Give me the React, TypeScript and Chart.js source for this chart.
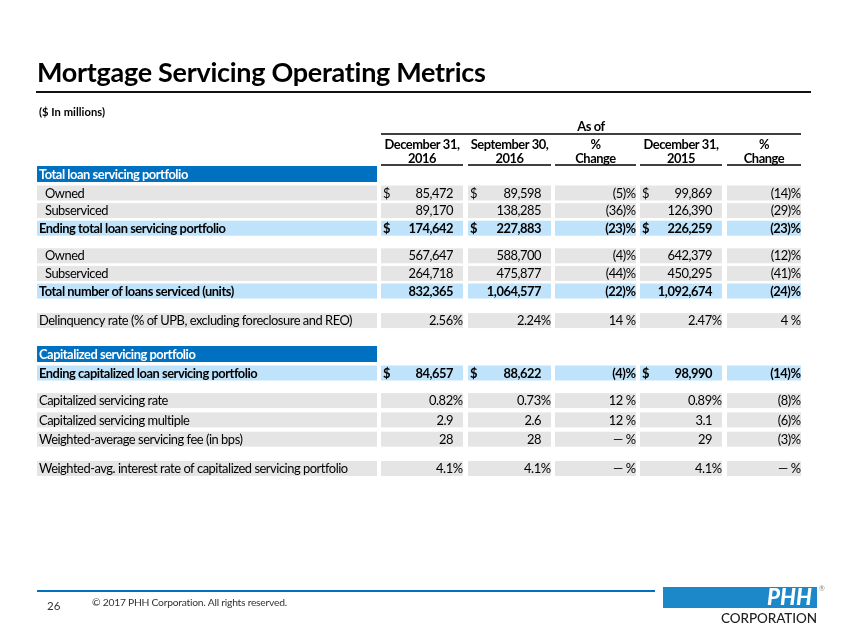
import React, { useEffect, useRef } from "react";
import { Chart, registerables } from "chart.js";

Chart.register(...registerables);

// ---------- data ----------
const title = "Mortgage Servicing Operating Metrics";
const unitNote = "($ In millions)";
const groupHeader = "As of";
const colHeads1 = ["December 31,", "September 30,", "%", "December 31,", "%"];
const colHeads2 = ["2016", "2016", "Change", "2015", "Change"];

// row kinds: section (blue heading), indent, plain, total (bold light-blue), gap / gapM / gap2 (spacers)
const rowLabels = [
  "Total loan servicing portfolio",
  "Owned",
  "Subserviced",
  "Ending total loan servicing portfolio",
  "",
  "Owned",
  "Subserviced",
  "Total number of loans serviced (units)",
  "",
  "Delinquency rate (% of UPB, excluding foreclosure and REO)",
  "",
  "Capitalized servicing portfolio",
  "Ending capitalized loan servicing portfolio",
  "",
  "Capitalized servicing rate",
  "Capitalized servicing multiple",
  "Weighted-average servicing fee (in bps)",
  "",
  "Weighted-avg. interest rate of capitalized servicing portfolio",
];
const rowKinds = [
  "section", "indent", "indent", "total", "gap",
  "indent", "indent", "total", "gapM",
  "plain", "gap2",
  "section", "total", "gap",
  "plain", "plain", "plain", "gap",
  "plain",
];
// value formats: int / pct2 / mult / bps / pct1
const rowFormats = [
  "", "int", "int", "int", "",
  "int", "int", "int", "",
  "pct2", "",
  "", "int", "",
  "pct2", "mult", "bps", "",
  "pct1",
];
const dollarRows = [1, 3, 12];

const dec2016 = [null, 85472, 89170, 174642, null, 567647, 264718, 832365, null, 2.56, null, null, 84657, null, 0.82, 2.9, 28, null, 4.1];
const sep2016 = [null, 89598, 138285, 227883, null, 588700, 475877, 1064577, null, 2.24, null, null, 88622, null, 0.73, 2.6, 28, null, 4.1];
const changeQ = [null, -5, -36, -23, null, -4, -44, -22, null, 14, null, null, -4, null, 12, 12, 0, null, 0];
const dec2015 = [null, 99869, 126390, 226259, null, 642379, 450295, 1092674, null, 2.47, null, null, 98990, null, 0.89, 3.1, 29, null, 4.1];
const changeY = [null, -14, -29, -23, null, -12, -41, -24, null, 4, null, null, -14, null, -8, -6, -3, null, 0];

const footerPage = "26";
const footerCopy = "\u00A9 2017 PHH Corporation. All rights reserved.";
const logoTop = "PHH";
const logoBottom = "CORPORATION";

// ---------- formatting ----------
function fmtValue(v: number | null, f: string): string {
  if (v === null || v === undefined) return "";
  if (f === "int") return v.toLocaleString("en-US");
  if (f === "pct2") return v.toFixed(2) + "%";
  if (f === "pct1") return v.toFixed(1) + "%";
  if (f === "mult") return v.toFixed(1);
  return String(v);
}
function fmtChange(v: number | null): string {
  if (v === null || v === undefined) return "";
  if (v === 0) return "\u2014 %";
  if (v < 0) return "(" + Math.abs(v) + ")%";
  return v + " %";
}

const FONT = "Lato, 'Open Sans', sans-serif";

// letter spacing (px) so that text at given font spans width
function fitSpacing(ctx: CanvasRenderingContext2D, text: string, font: string, width: number) {
  (ctx as any).letterSpacing = "0px";
  ctx.font = font;
  const w = ctx.measureText(text).width;
  return (width - w) / text.length;
}
function setFont(ctx: CanvasRenderingContext2D, font: string, ls: number) {
  ctx.font = font;
  (ctx as any).letterSpacing = `${ls.toFixed(3)}px`;
}

const tablePlugin = {
  id: "tablePlugin",
  afterDraw(chart: any) {
    const ctx: CanvasRenderingContext2D = chart.ctx;
    const xs = chart.scales.x;
    const ys = chart.scales.y;
    const X = (v: number) => xs.getPixelForValue(v);
    const Y = (v: number) => ys.getPixelForValue(v);

    ctx.save();
    ctx.fillStyle = "#ffffff";
    ctx.fillRect(X(0), Y(0), X(847) - X(0), Y(635) - Y(0));

    // Title
    const tFont = `bold 27px ${FONT}`;
    setFont(ctx, tFont, fitSpacing(ctx, title, tFont, 449));
    ctx.fillStyle = "#000";
    ctx.textBaseline = "alphabetic";
    ctx.textAlign = "left";
    ctx.fillText(title, X(37), Y(82));
    ctx.strokeStyle = "#111";
    ctx.lineWidth = 2;
    ctx.beginPath();
    ctx.moveTo(X(36), Y(92));
    ctx.lineTo(X(811), Y(92));
    ctx.stroke();

    // unit note
    const nFont = `bold 11.2px ${FONT}`;
    setFont(ctx, nFont, fitSpacing(ctx, unitNote, nFont, 66));
    ctx.textBaseline = "middle";
    ctx.fillText(unitNote, X(39), Y(112));

    const BODY = 12.9;
    const bodyLs = fitSpacing(ctx, rowLabels[9], `normal ${BODY}px ${FONT}`, 313);
    const cols = [[381, 463], [468, 551], [555, 636], [640, 722], [727, 801]];

    // Column group header
    setFont(ctx, `bold ${BODY}px ${FONT}`, bodyLs);
    ctx.textAlign = "center";
    ctx.fillText(groupHeader, X(591), Y(127));
    ctx.lineWidth = 1.6;
    ctx.strokeStyle = "#000";
    ctx.beginPath();
    ctx.moveTo(X(381), Y(134));
    ctx.lineTo(X(801), Y(134));
    ctx.stroke();

    cols.forEach((c, i) => {
      const cx = (c[0] + c[1]) / 2;
      ctx.fillText(colHeads1[i], X(cx), Y(145));
      ctx.fillText(colHeads2[i], X(cx), Y(158.5));
      ctx.beginPath();
      ctx.moveTo(X(c[0]), Y(165));
      ctx.lineTo(X(c[1]), Y(165));
      ctx.stroke();
    });

    // Rows
    const heights: Record<string, number> = {
      section: 19.5, indent: 17.6, total: 17.6, plain: 19.3, gap: 10, gapM: 12, gap2: 13.6,
    };
    let top = 166;
    const colVals = [dec2016, sep2016, changeQ, dec2015, changeY];
    rowKinds.forEach((kind, i) => {
      if (kind.startsWith("gap")) {
        top += heights[kind];
        return;
      }
      const bandH = kind === "section" ? 16 : 15;
      const mid = top + bandH / 2 + 0.5;
      const bold = kind === "total" || kind === "section";
      const weight = bold ? "bold" : "normal";
      ctx.fillStyle = kind === "section" ? "#0070C0" : kind === "total" ? "#BFE3FA" : "#E5E5E5";
      ctx.fillRect(X(37), Y(top), X(377) - X(37), Y(top + bandH) - Y(top));
      if (kind !== "section") {
        cols.forEach((c) => {
          ctx.fillRect(X(c[0]), Y(top), X(c[1]) - X(c[0]), Y(top + bandH) - Y(top));
        });
      }
      setFont(ctx, `${weight} ${BODY}px ${FONT}`, bodyLs);
      ctx.textBaseline = "middle";
      ctx.textAlign = "left";
      ctx.fillStyle = kind === "section" ? "#ffffff" : "#000000";
      ctx.fillText(rowLabels[i], X(kind === "indent" ? 45 : 39), Y(mid));
      if (kind !== "section") {
        ctx.fillStyle = "#000";
        colVals.forEach((arr, ci) => {
          const c = cols[ci];
          const isChange = ci === 2 || ci === 4;
          const txt = isChange ? fmtChange(arr[i] as any) : fmtValue(arr[i] as any, rowFormats[i]);
          if (!txt) return;
          if (!isChange && dollarRows.includes(i)) {
            ctx.textAlign = "left";
            ctx.fillText("$", X(c[0] + 2), Y(mid));
          }
          ctx.textAlign = "right";
          const endsPct = txt.endsWith("%");
          const rx = isChange || endsPct ? c[1] - 0.5 : c[1] - 10;
          ctx.fillText(txt, X(rx), Y(mid));
        });
      }
      top += heights[kind];
    });

    // Footer
    ctx.strokeStyle = "#0070C0";
    ctx.lineWidth = 2;
    ctx.beginPath();
    ctx.moveTo(X(37), Y(591));
    ctx.lineTo(X(655), Y(591));
    ctx.stroke();

    ctx.fillStyle = "#333";
    ctx.textAlign = "left";
    ctx.textBaseline = "middle";
    setFont(ctx, `normal 11.5px ${FONT}`, 0);
    ctx.fillText(footerPage, X(47), Y(606));
    const cFont = `normal 10.3px ${FONT}`;
    setFont(ctx, cFont, fitSpacing(ctx, footerCopy, cFont, 195));
    ctx.fillText(footerCopy, X(92), Y(603));

    // Logo
    ctx.fillStyle = "#1C87C9";
    ctx.fillRect(X(663), Y(587), X(817) - X(663), Y(608) - Y(587));
    setFont(ctx, `italic 900 20px ${FONT}`, 0);
    const pw = ctx.measureText(logoTop).width;
    const pSize = (20 * 45) / pw;
    setFont(ctx, `italic 900 ${pSize}px ${FONT}`, 0);
    ctx.fillStyle = "#fff";
    ctx.textAlign = "right";
    ctx.fillText(logoTop, X(812), Y(598));
    setFont(ctx, `normal 7px ${FONT}`, 0);
    ctx.fillStyle = "#888";
    ctx.textAlign = "left";
    ctx.fillText("\u00AE", X(819), Y(589));
    const lFont = `500 13.5px ${FONT}`;
    setFont(ctx, lFont, fitSpacing(ctx, logoBottom, lFont, 96));
    ctx.fillStyle = "#222";
    ctx.fillText(logoBottom, X(721), Y(619));

    ctx.restore();
  },
};

export default function App() {
  const ref = useRef<HTMLCanvasElement | null>(null);
  useEffect(() => {
    document.body.style.margin = "0";
    if (!ref.current) return;
    const chart = new Chart(ref.current, {
      type: "scatter",
      data: { datasets: [{ data: [] }] },
      options: {
        animation: false,
        responsive: false,
        layout: { padding: 0 },
        plugins: { legend: { display: false }, tooltip: { enabled: false } },
        scales: {
          x: { type: "linear", min: 0, max: 847, display: false },
          y: { type: "linear", min: 0, max: 635, reverse: true, display: false },
        },
      },
      plugins: [tablePlugin],
    });
    return () => chart.destroy();
  }, []);
  return (
    <div style={{ position: "absolute", left: 0, top: 0, width: 847, height: 635 }}>
      <canvas ref={ref} width={847} height={635} />
    </div>
  );
}
